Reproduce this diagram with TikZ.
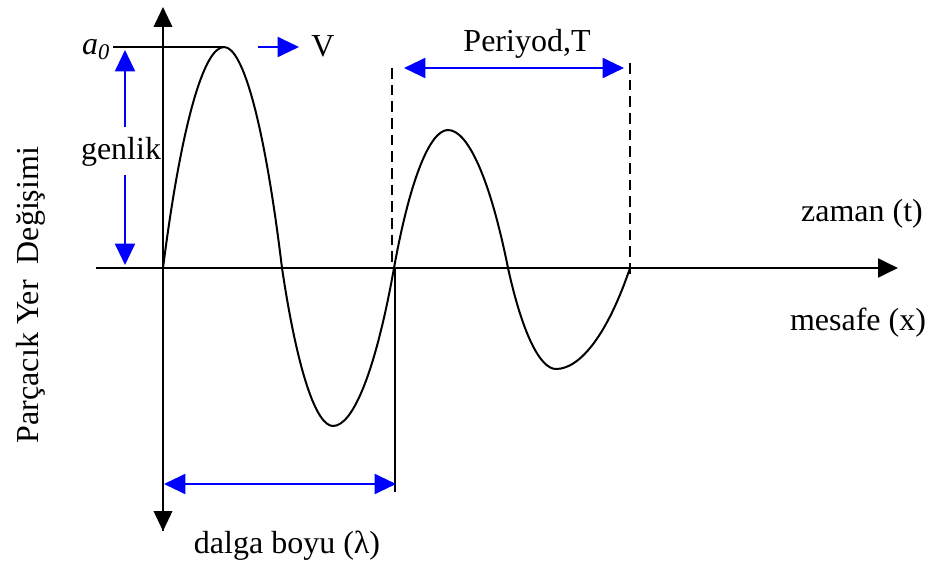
\documentclass[tikz,border=0pt]{standalone}
\usepackage{fontspec}
\setmainfont{Liberation Serif}
\usetikzlibrary{arrows.meta}
\tikzset{
  lbl/.style={inner sep=0pt, font=\fontsize{24}{28}\selectfont},
  axis/.style={line width=1.3pt, -{Triangle[length=15pt,width=14pt]}},
  blu/.style={draw=blue, line width=1.5pt, -{Triangle[length=16pt,width=15pt]}},
  bblu/.style={draw=blue, line width=1.5pt, {Triangle[length=16pt,width=15pt]}-{Triangle[length=16pt,width=15pt]}},
  wave/.style={line width=1.5pt, line join=round},
  dashln/.style={line width=1.2pt, dash pattern=on 8pt off 4.5pt}
}
\begin{document}
\begin{tikzpicture}[x=0.75pt,y=-0.75pt]
\useasboundingbox (0,0) rectangle (935,567);
% coordinates
\coordinate (O) at (163,268);
\coordinate (ytop) at (163,7);
\coordinate (ybot) at (163,531);
\coordinate (xl) at (96,268);
\coordinate (xr) at (898,268);
\coordinate (a0l) at (113,47);
\coordinate (pk1) at (224,47);
\coordinate (c1) at (282,268);
\coordinate (tr1) at (333,426);
\coordinate (c2) at (394,268);
\coordinate (pk2) at (448,130);
\coordinate (c3) at (508,268);
\coordinate (tr2) at (556,369);
\coordinate (c4) at (630,268);
\coordinate (d1t) at (392,68);
\coordinate (d1b) at (392,268);
\coordinate (d2t) at (630,63);
\coordinate (d2b) at (630,276);
\coordinate (wlt) at (395,268);
\coordinate (wlb) at (395,492);
\coordinate (pa) at (404,68);
\coordinate (pb) at (624,68);
\coordinate (wa) at (164,484);
\coordinate (wb) at (396,484);
\coordinate (gu1) at (125,127);
\coordinate (gu2) at (125,50);
\coordinate (gd1) at (125,175);
\coordinate (gd2) at (125,265);
\coordinate (va) at (258,47);
\coordinate (vb) at (299,47);

% axes
\draw[axis, line width=1.3pt] (ybot) -- (ytop);
\draw[axis, line width=1.3pt] (O) -- (ybot);
\draw[axis, line width=2.2pt] (xl) -- (xr);

% amplitude line
\draw[line width=1.5pt] (a0l) -- (pk1);

% wave
\draw[wave] (O) .. controls (181.3,124.35) and (203.9,47) .. (pk1)
  .. controls (243.1,47) and (264.6,124.35) .. (c1)
  .. controls (297.3,370.7) and (316.2,426) .. (tr1)
  .. controls (353.1,426) and (375.7,370.7) .. (c2)
  .. controls (410.2,178.3) and (430.2,130) .. (pk2)
  .. controls (467.8,130) and (490,178.3) .. (c3)
  .. controls (522.4,333.65) and (540.2,369) .. (tr2)
  .. controls (580.4,369) and (607.8,333.65) .. (c4);

% dashed period lines
\draw[dashln] (d1t) -- (d1b);
\draw[dashln] (d2t) -- (d2b);
% wavelength line
\draw[line width=1.3pt] (wlt) -- (wlb);

% blue arrows
\draw[bblu] (pa) -- (pb);
\draw[bblu] (wa) -- (wb);
\draw[blu] (gu1) -- (gu2);
\draw[blu] (gd1) -- (gd2);
\draw[blu] (va) -- (vb);

% labels
\node[lbl] (a0) at (96,50) {\textit{a\textsubscript{0}}};
\node[lbl] (V) at (323,46) {V};
\node[lbl] (gen) at (121,152) {genlik};
\node[lbl] (per) at (527,44) {Periyod,T};
\node[lbl] (zam) at (862,214) {zaman (t)};
\node[lbl] (mes) at (858,323) {mesafe (x)};
\node[lbl] (dal) at (287,546) {dalga boyu (λ)};
\node[lbl, rotate=90] (ylab) at (31,295) {Parçacık Yer\ \ Değişimi};
\end{tikzpicture}
\end{document}
